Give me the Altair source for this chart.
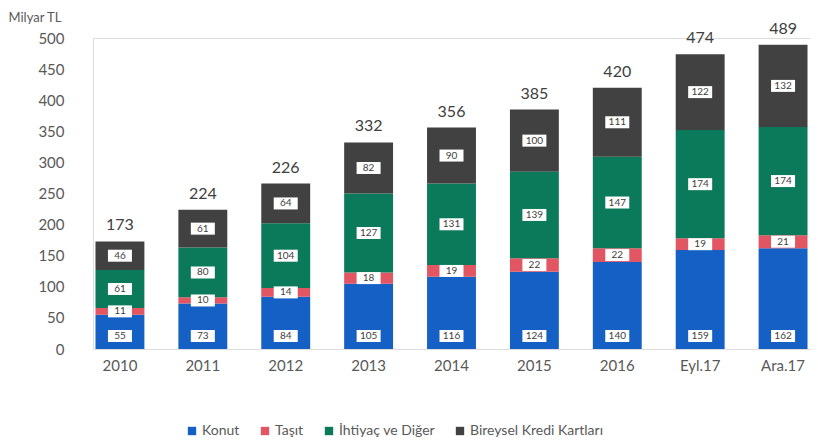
import altair as alt
import pandas as pd

kategoriler = ["2010", "2011", "2012", "2013", "2014", "2015", "2016", "Eyl.17", "Ara.17"]
seriler = ["Konut", "Taşıt", "İhtiyaç ve Diğer", "Bireysel Kredi Kartları"]
renkler = ["#1560c4", "#e25563", "#0b7a5a", "#414141"]

konut = [55, 73, 84, 105, 116, 124, 140, 159, 162]
tasit = [11, 10, 14, 18, 19, 22, 22, 19, 21]
ihtiyac = [61, 80, 104, 127, 131, 139, 147, 174, 174]
kart = [46, 61, 64, 82, 90, 100, 111, 122, 132]
toplam_etiket = [173, 224, 226, 332, 356, 385, 420, 474, 489]
y_ticks = [0, 50, 100, 150, 200, 250, 300, 350, 400, 450, 500]

rows = []
for i, k in enumerate(kategoriler):
    for j, (s, vals) in enumerate(zip(seriler, [konut, tasit, ihtiyac, kart])):
        rows.append({"kat": k, "seri": s, "deger": vals[i], "sira": j})
df = pd.DataFrame(rows)

tot = pd.DataFrame({
    "kat": kategoriler,
    "toplam": [a + b + c + d for a, b, c, d in zip(konut, tasit, ihtiyac, kart)],
    "etiket": [str(t) for t in toplam_etiket],
})

FONT = "Lato"
GRAY = "#595959"

x_axis = alt.Axis(title=None, labelAngle=0, domain=False, ticks=False,
                  labelFontSize=15, labelColor=GRAY, labelPadding=9, labelFont=FONT)
x_scale = alt.Scale(paddingInner=0.41, paddingOuter=0.03)

y_scale = alt.Scale(domain=[0, 500], nice=False)
y_axis = alt.Axis(values=y_ticks, tickCount=11, grid=False, domain=False, ticks=False,
                  labelOverlap=False, labelFlush=False,
                  labelFontSize=15, labelColor=GRAY, labelPadding=29, labelFont=FONT,
                  title="Milyar TL", titleAngle=0, titleAlign="left",
                  titleX=-85, titleY=-21, titleBaseline="middle",
                  titleFontSize=13, titleFontWeight="normal", titleColor=GRAY,
                  titleFont=FONT)


def X():
    return alt.X("kat:N", sort=kategoriler, scale=x_scale, axis=x_axis)


def Y(field):
    return alt.Y(field, scale=y_scale, axis=y_axis, title="Milyar TL")


bars = alt.Chart(df).mark_bar().encode(
    x=X(),
    y=alt.Y("deger:Q", stack="zero", scale=y_scale, axis=y_axis, title="Milyar TL"),
    color=alt.Color("seri:N", sort=seriler,
                    scale=alt.Scale(domain=seriler, range=renkler),
                    legend=alt.Legend(title=None, orient="none", direction="horizontal",
                                      legendX=92, legendY=386, symbolType="square",
                                      symbolSize=70, symbolStrokeWidth=0,
                                      labelFontSize=14, labelColor=GRAY, labelFont=FONT,
                                      columnPadding=18, labelOffset=3)),
    order=alt.Order("sira:Q"),
)

stacked = alt.Chart(df).transform_stack(
    stack="deger", groupby=["kat"], as_=["y0", "y1"],
    sort=[alt.SortField("sira", order="ascending")],
).transform_calculate(mid="(datum.y0 + datum.y1) / 2")

box_shape = "M-1,-0.5H1V0.5H-1Z"

box_mid = stacked.transform_filter("datum.sira > 0").mark_point(
    shape=box_shape, size=576, filled=True, fill="white", opacity=1, strokeWidth=0
).encode(x=X(), y=Y("mid:Q"))

text_mid = stacked.transform_filter("datum.sira > 0").mark_text(
    fontSize=10, color="#404040", font=FONT
).encode(x=X(), y=Y("mid:Q"), text=alt.Text("deger:Q"))

box_base = stacked.transform_filter("datum.sira == 0").mark_point(
    shape=box_shape, size=576, filled=True, fill="white", opacity=1, strokeWidth=0, yOffset=-13
).encode(x=X(), y=Y("y0:Q"))

text_base = stacked.transform_filter("datum.sira == 0").mark_text(
    fontSize=10, color="#404040", font=FONT, yOffset=-13
).encode(x=X(), y=Y("y0:Q"), text=alt.Text("deger:Q"))

totals = alt.Chart(tot).mark_text(
    fontSize=16, color="#404040", font=FONT, baseline="bottom", dy=-8
).encode(x=X(), y=Y("toplam:Q"), text="etiket:N")

chart = alt.layer(bars, box_mid, text_mid, box_base, text_base, totals).properties(
    width=717, height=311,
    padding={"left": 85, "top": 30, "right": 0, "bottom": 90},
    autosize="none",
).configure_view(stroke=None).configure(font=FONT, background="white")

chart.save("out.html", embed_options={"renderer": "svg", "actions": False})
